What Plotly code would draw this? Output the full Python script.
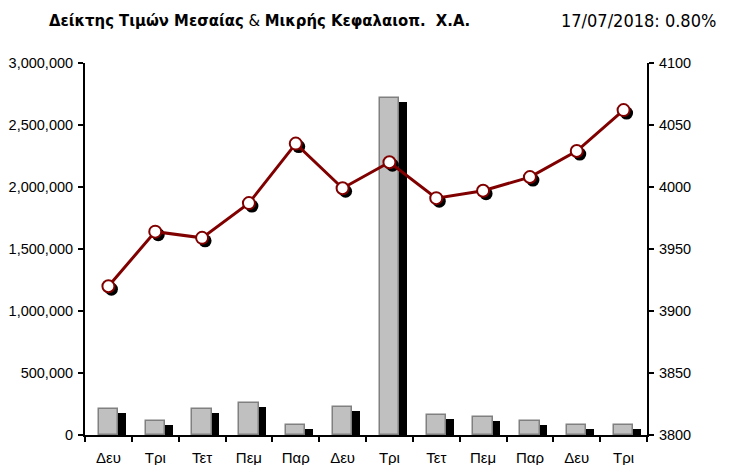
import plotly.graph_objects as go

days = ["Δευ", "Τρι", "Τετ", "Πεμ", "Παρ", "Δευ", "Τρι", "Τετ", "Πεμ", "Παρ", "Δευ", "Τρι"]
volume = [210000, 115000, 210000, 260000, 83000, 228000, 2715000, 163000, 147000, 115000, 83000, 83000]
index_vals = [3920, 3964, 3959, 3987, 4035, 3999, 4020, 3991, 3997, 4008, 4029, 4062]
left_ticks = [0, 500000, 1000000, 1500000, 2000000, 2500000, 3000000]
right_ticks = [3800, 3850, 3900, 3950, 4000, 4050, 4100]

title_text = "<b>Δείκτης Τιμών Μεσαίας</b> & <b>Μικρής Κεφαλαιοπ.&nbsp; Χ.Α.</b>"
date_text = "17/07/2018: 0.80%"

W, H = 736, 465
L, R, T, B = 85, 89, 63, 30
pw = W - L - R
ph = H - T - B
n = len(days)
xpx = (n) / pw          # data units per px on x
ypx = 3000000 / ph      # data units per px on y1
y2px = 300 / ph         # data units per px on y2

xs = list(range(n))
narrow = "DejaVu Sans Condensed, sans-serif"
reg = "Liberation Sans, Arial, sans-serif"

fig = go.Figure()
# bar shadows
fig.add_trace(go.Bar(
    x=[x + 7.5 * xpx for x in xs], y=volume, base=[-4 * ypx] * n,
    width=0.42, marker=dict(color="black", line=dict(width=0)),
    hoverinfo="skip", showlegend=False))
# bars
fig.add_trace(go.Bar(
    x=xs, y=volume, width=0.41,
    marker=dict(color="#C0C0C0", line=dict(color="#808080", width=1.5)),
    showlegend=False))
# marker shadows
fig.add_trace(go.Scatter(
    x=[x + 3 * xpx for x in xs], y=[v - 3 * y2px for v in index_vals], yaxis="y2",
    mode="markers", marker=dict(size=13, color="black"),
    hoverinfo="skip", showlegend=False))
# line
fig.add_trace(go.Scatter(
    x=xs, y=index_vals, yaxis="y2", mode="lines+markers",
    line=dict(color="#800000", width=3),
    marker=dict(size=12, color="white", line=dict(color="#800000", width=2)),
    showlegend=False))

fig.update_layout(
    width=W, height=H,
    margin=dict(l=L, r=R, t=T, b=B),
    paper_bgcolor="white", plot_bgcolor="white",
    barmode="overlay", bargap=0,
    font=dict(family=reg, size=14.5, color="black"),
    xaxis=dict(
        range=[-0.5, n - 0.5], tickmode="array", tickvals=xs, ticktext=days,
        ticks="", showline=True, linecolor="black", linewidth=2,
        showgrid=False, zeroline=False, tickfont=dict(size=15),
        ticklabelstandoff=8, automargin=False,
        minor=dict(tickmode="array", tickvals=[x - 0.5 for x in range(n + 1)],
                   ticks="outside", ticklen=5, tickwidth=1.5, tickcolor="black", showgrid=False),
    ),
    yaxis=dict(
        range=[0, 3000000], tickmode="array", tickvals=left_ticks,
        tickformat=",", ticks="outside", ticklen=5, tickwidth=1.5, tickcolor="black",
        showline=True, linecolor="black", linewidth=2, showgrid=False, zeroline=False,
        ticklabelstandoff=2, automargin=False,
    ),
    yaxis2=dict(
        range=[3800, 4100], overlaying="y", side="right", tickmode="array",
        tickvals=right_ticks, ticks="outside", ticklen=5, tickwidth=1.5, tickcolor="black",
        showline=True, linecolor="black", linewidth=2, showgrid=False, zeroline=False,
        ticklabelstandoff=2, automargin=False,
    ),
    annotations=[
        dict(text=title_text, xref="paper", yref="paper",
             x=(47 - L) / pw, y=(H - B - 20) / ph, xanchor="left", yanchor="middle",
             showarrow=False, font=dict(family=narrow, size=16.5, color="black")),
        dict(text=date_text, xref="paper", yref="paper",
             x=(718 - L) / pw, y=(H - B - 20) / ph, xanchor="right", yanchor="middle",
             showarrow=False, font=dict(family=narrow, size=18, color="black")),
    ],
)

fig.write_html("out.html", config={"displayModeBar": False},
               post_script="document.body.style.margin='0';document.body.style.padding='0';")
